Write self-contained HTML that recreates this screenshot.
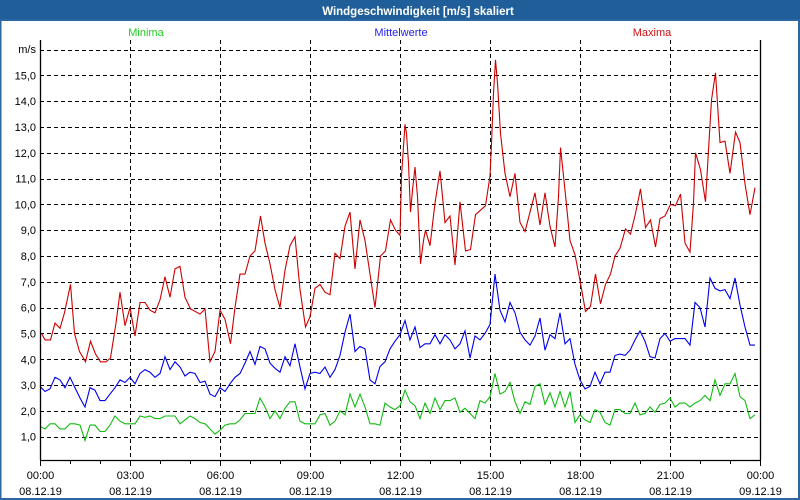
<!DOCTYPE html>
<html><head><meta charset="utf-8"><style>
html,body{margin:0;padding:0;background:#fff;}
svg{display:block;font-family:"Liberation Sans","DejaVu Sans",sans-serif;}
</style></head><body>
<svg id="chart" width="800" height="500" viewBox="0 0 800 500" xmlns="http://www.w3.org/2000/svg">
<rect x="0" y="0" width="800" height="500" fill="#fff"/>
<rect x="0" y="0" width="800" height="21" fill="#1f5e98"/>
<text x="418" y="15" fill="#fff" font-size="11.5" font-weight="bold" text-anchor="middle">Windgeschwindigkeit [m/s] skaliert</text>
<rect x="0.5" y="20" width="798.5" height="479" fill="none" stroke="#2a67a3" stroke-width="2"/>
<text x="146" y="36" fill="#22cc22" font-size="11" text-anchor="middle">Minima</text>
<text x="401" y="36" fill="#2222ee" font-size="11" text-anchor="middle">Mittelwerte</text>
<text x="652" y="36" fill="#cc1111" font-size="11" text-anchor="middle">Maxima</text>
<text x="36" y="53" fill="#000" font-size="11" text-anchor="end">m/s</text>
<g id="grid"></g><g id="series"></g><g id="axes"></g>
</svg>
<script>
var yTicks=[1,2,3,4,5,6,7,8,9,10,11,12,13,14,15];
var xTickHours=[0,3,6,9,12,15,18,21,24];
var xTickTimes=["00:00","03:00","06:00","09:00","12:00","15:00","18:00","21:00","00:00"];
var xTickDates=["08.12.19","08.12.19","08.12.19","08.12.19","08.12.19","08.12.19","08.12.19","08.12.19","09.12.19"];
var stepMinutes=10;
var minima=[1.4,1.3,1.5,1.5,1.3,1.3,1.5,1.5,1.45,0.85,1.45,1.45,1.2,1.2,1.45,1.8,1.6,1.5,1.5,1.5,1.8,1.75,1.8,1.7,1.7,1.8,1.8,1.8,1.5,1.65,1.8,1.7,1.55,1.5,1.3,1.1,1.25,1.45,1.5,1.5,1.65,1.9,1.9,1.9,2.5,2.15,1.7,2.0,1.7,2.1,2.35,2.35,1.6,1.5,1.5,1.5,1.85,1.9,1.45,1.6,2.0,1.85,2.65,2.15,2.65,2.15,1.5,1.5,1.45,2.3,2.15,2.05,2.2,2.8,2.35,2.2,1.7,2.3,1.9,2.5,2.05,2.4,2.4,2.5,1.95,2.1,1.9,1.7,2.4,2.3,2.55,3.45,2.65,2.75,3.1,2.35,1.9,2.35,2.25,2.95,3.05,2.25,2.7,2.15,2.75,2.15,2.75,1.55,1.85,1.65,1.55,2.05,1.95,1.55,1.45,2.05,2.05,1.9,1.9,2.3,1.85,1.9,2.15,1.95,2.25,2.3,2.5,2.15,2.3,2.3,2.15,2.3,2.4,2.6,2.4,3.2,2.6,3.05,3.05,3.45,2.55,2.4,1.7,1.85];
var mittelwerte=[2.95,2.75,2.85,3.3,3.2,2.9,3.3,2.9,2.5,2.15,2.9,2.8,2.4,2.4,2.65,2.9,3.2,3.1,3.3,3.05,3.45,3.6,3.5,3.3,3.45,4.1,3.6,3.9,3.7,3.35,3.5,3.45,3.1,3.15,2.65,2.55,2.9,2.75,3.05,3.3,3.45,3.85,4.3,3.8,4.5,4.4,3.85,3.65,3.5,4.1,3.75,4.6,3.7,2.85,3.45,3.5,3.45,3.7,3.3,3.6,4.15,5.05,5.75,4.3,4.5,4.4,3.2,3.05,3.72,3.9,4.4,4.7,4.95,5.5,4.75,5.25,4.45,4.6,4.6,4.95,4.6,4.95,4.75,4.4,4.6,5.1,4.05,4.9,4.75,5.0,5.35,7.3,5.9,5.45,6.2,5.8,5.05,4.75,4.55,4.9,5.6,4.35,4.95,4.8,5.8,4.6,4.8,3.8,3.2,2.85,2.95,3.5,3.05,3.5,3.5,4.15,4.2,4.15,4.35,4.75,5.1,4.7,4.1,4.05,4.8,5.0,4.7,4.8,4.8,4.8,4.55,6.2,6.0,5.25,7.15,6.75,6.65,6.7,6.35,7.15,6.1,5.25,4.55,4.55];
var maximaMinutes=[3,10,21,30,40,49,61,69,79,91,101,111,121,132,141,152,160,170,180,190,200,210,220,230,240,250,260,270,280,290,301,320,330,340,350,360,370,381,390,400,410,420,430,441,450,460,470,480,490,500,510,520,531,540,550,560,570,580,590,600,610,620,630,640,650,660,670,681,691,701,711,720,723,730,733,737,741,745,750,755,761,767,771,780,790,800,810,820,830,840,851,861,871,891,900,903,907,911,915,921,930,940,950,960,970,990,1000,1010,1020,1030,1037,1041,1050,1060,1070,1080,1091,1101,1111,1121,1131,1141,1150,1160,1171,1181,1191,1201,1211,1221,1231,1240,1250,1261,1271,1281,1290,1300,1307,1311,1321,1331,1337,1343,1351,1360,1370,1380,1391,1400,1410,1420,1430];
var maxima=[5.0,4.75,4.75,5.4,5.2,5.8,6.9,5.0,4.3,3.9,4.7,4.2,3.9,3.9,4.05,5.4,6.6,5.3,6.0,4.9,6.2,6.2,5.9,5.8,6.3,7.2,6.4,7.5,7.6,6.4,5.95,5.75,5.95,3.9,4.3,5.9,5.55,4.6,6.0,7.3,7.3,8.0,8.2,9.55,8.5,7.7,6.7,6.0,7.45,8.4,8.75,6.7,5.25,5.65,6.75,6.9,6.6,6.5,8.1,7.9,9.15,9.7,7.5,9.4,8.6,7.3,6.0,8.0,8.2,9.4,9.0,8.8,11.1,13.1,12.75,11.6,9.7,10.55,11.45,10.3,7.7,8.6,9.0,8.4,10.05,11.3,9.3,9.55,7.65,10.1,8.2,8.25,9.6,9.95,11.1,12.35,14.3,15.6,14.7,12.75,11.2,10.3,11.2,9.3,8.95,10.45,9.2,10.45,9.15,8.35,10.3,12.2,10.55,8.6,8.05,7.05,5.85,6.05,7.3,6.15,6.9,7.3,8.0,8.3,9.05,8.85,9.65,10.6,9.1,9.4,8.35,9.45,9.55,10.0,9.95,10.4,8.5,8.15,10.05,12.0,11.35,10.1,12.1,14.05,15.1,12.4,12.45,11.2,12.8,12.4,10.8,9.6,10.65];

var NS="http://www.w3.org/2000/svg";
var X0=40,X1=760,Y0=40,YB=460;
function xScale(min){return X0+(X1-X0)*min/1440;}
function yScale(v){return 462.5-25.81*v;}
function mk(tag,attrs,parent){var e=document.createElementNS(NS,tag);for(var k in attrs)e.setAttribute(k,attrs[k]);parent.appendChild(e);return e;}
var grid=document.getElementById('grid'),axes=document.getElementById('axes'),ser=document.getElementById('series');
// horizontal grid (1..16)
for(var v=1;v<=16;v++){
  var y=Math.round(yScale(v))+0.5;
  var gl=mk('line',{x1:X0,x2:X1,y1:y,y2:y,stroke:'#000','stroke-width':1,'stroke-dasharray':'4,3'},grid);
  
  
}
yTicks.forEach(function(t){
  var tx=mk('text',{x:36,y:yScale(t)+4,'font-size':11,'text-anchor':'end',fill:'#000'},axes);
  tx.textContent=t.toFixed(1).replace('.',',');
  
  
});
xTickHours.forEach(function(h,i){
  var x=Math.round(xScale(h*60))+0.5;
  if(h>0&&h<24){
    var vl=mk('line',{x1:x,x2:x,y1:Y0,y2:YB,stroke:'#000','stroke-width':1,'stroke-dasharray':'4,3'},grid);
    
    
  }
  var t1=mk('text',{x:x,y:479,'font-size':11,'text-anchor':'middle',fill:'#000'},axes);
  t1.textContent=xTickTimes[i];
  
  
  var t2=mk('text',{x:x,y:495,'font-size':11,'text-anchor':'middle',fill:'#000'},axes);
  t2.textContent=xTickDates[i];
  
  
});
for(var hh=0;hh<=24;hh++){
  var xx=Math.round(xScale(hh*60))+0.5;
  var tk=mk('line',{x1:xx,x2:xx,y1:YB,y2:YB+(hh%3==0?6:4),stroke:'#000','stroke-width':1},axes);
  
  
}
var la=mk('line',{x1:X0+0.5,x2:X0+0.5,y1:Y0,y2:YB,stroke:'#000','stroke-width':1.3},axes);


var ra=mk('line',{x1:X1+0.5,x2:X1+0.5,y1:Y0,y2:YB,stroke:'#000','stroke-width':1.3},axes);


var ba=mk('line',{x1:X0,x2:X1+1,y1:YB+0.5,y2:YB+0.5,stroke:'#000','stroke-width':1.3},axes);


function pts(times,vals){return vals.map(function(v,i){return xScale(times[i]).toFixed(1)+','+yScale(v).toFixed(1);}).join(' ');}
var uni=minima.map(function(_,i){return i*stepMinutes;});
var p1=mk('polyline',{points:pts(uni,minima),fill:'none',stroke:'#11bb11','stroke-width':1.1},ser);


var uni2=mittelwerte.map(function(_,i){return i*stepMinutes;});
var p2=mk('polyline',{points:pts(uni2,mittelwerte),fill:'none',stroke:'#0000ee','stroke-width':1.1},ser);


var p3=mk('polyline',{points:pts(maximaMinutes,maxima),fill:'none',stroke:'#cc0000','stroke-width':1.1},ser);


</script>
</body></html>
